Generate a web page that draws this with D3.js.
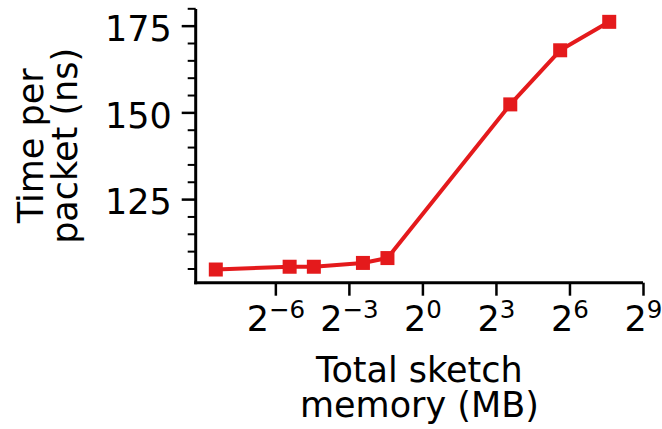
<!DOCTYPE html>
<html>
<head>
<meta charset="utf-8">
<script src="https://cdn.jsdelivr.net/npm/d3@7"></script>
<style>
  html, body { margin: 0; padding: 0; background: #fff; }
  svg { display: block; }
  text { font-family: "DejaVu Sans", sans-serif; fill: #000; }
</style>
</head>
<body>
<svg id="chart" width="662" height="429"></svg>
<script>
// ---- data ----
const memoryMB = [0.0029, 0.0234, 0.0464, 0.186, 0.372, 12.0, 49.2, 197];
const timeNs   = [104.7, 105.5, 105.5, 106.6, 108.0, 152.3, 167.9, 176.1];
const xTickExps = [-6, -3, 0, 3, 6, 9];
const yMajorTicks = [125, 150, 175];
const yMinorTicks = [105, 110, 115, 120, 130, 135, 140, 145, 155, 160, 165, 170, 180];
const xLabelLines = ["Total sketch", "memory (MB)"];
const yLabelLines = ["Time per", "packet (ns)"];

(function () {
const pL = 195.7, pR = 643, pT = 9, pB = 282.7;
const color = "#e41a1c";
const fs = 35;

const svg = d3.select("#chart");

const x = d3.scaleLog().base(2).domain([Math.pow(2, -9.25), Math.pow(2, 9)]).range([pL, pR]);
const y = d3.scaleLinear().domain([100.9, 179.8]).range([pB, pT]);

// ---- y axis ----
const yAxis = svg.append("g").attr("transform", `translate(${pL},0)`)
  .call(d3.axisLeft(y).tickValues(yMajorTicks).tickSize(14).tickPadding(10).tickFormat(d3.format("d")));
yAxis.select(".domain").remove();
yAxis.selectAll(".tick line").attr("stroke", "#000").attr("stroke-width", 2.5);
yAxis.selectAll(".tick text").attr("font-size", fs).attr("font-family", "DejaVu Sans").attr("dy", "0.42em");

const yMinor = svg.append("g").attr("transform", `translate(${pL},0)`)
  .call(d3.axisLeft(y).tickValues(yMinorTicks).tickSize(8).tickFormat(""));
yMinor.select(".domain").remove();
yMinor.selectAll(".tick line").attr("stroke", "#000").attr("stroke-width", 2);

// ---- x axis ----
const xAxis = svg.append("g").attr("transform", `translate(0,${pB})`)
  .call(d3.axisBottom(x).tickValues(xTickExps.map(e => Math.pow(2, e))).tickSize(13).tickPadding(0).tickFormat(""));
xAxis.select(".domain").remove();
xAxis.selectAll(".tick line").attr("stroke", "#000").attr("stroke-width", 2.5);
xAxis.selectAll(".tick").each(function(d, i) {
  const e = xTickExps[i];
  const t = d3.select(this).append("text")
    .attr("y", 48).attr("text-anchor", "middle").attr("font-size", fs).attr("fill", "#000");
  t.append("tspan").text("2");
  t.append("tspan").attr("dy", -13).attr("font-size", fs * 0.7)
    .text(e < 0 ? "\u2212" + Math.abs(e) : String(e));
});

// ---- spines ----
svg.append("line").attr("x1", pL).attr("x2", pL).attr("y1", pT).attr("y2", pB + 1.5)
  .attr("stroke", "#000").attr("stroke-width", 3);
svg.append("line").attr("x1", pL - 1.5).attr("x2", pR).attr("y1", pB).attr("y2", pB)
  .attr("stroke", "#000").attr("stroke-width", 3);

// ---- line + markers ----
const pts = memoryMB.map((m, i) => [m, timeNs[i]]);
svg.append("path").datum(pts)
  .attr("fill", "none").attr("stroke", color).attr("stroke-width", 4)
  .attr("stroke-linejoin", "round")
  .attr("d", d3.line().x(d => x(d[0])).y(d => y(d[1])));
const ms = 14;
svg.selectAll("rect.mk").data(pts).enter().append("rect").attr("class", "mk")
  .attr("x", d => x(d[0]) - ms / 2).attr("y", d => y(d[1]) - ms / 2)
  .attr("width", ms).attr("height", ms).attr("fill", color);

// ---- axis labels ----
const xl = svg.append("text").attr("text-anchor", "middle").attr("font-size", fs)
  .attr("transform", `translate(${(pL + pR) / 2},382.3)`);
xLabelLines.forEach((s, i) => xl.append("tspan").attr("x", 0).attr("y", i * 34.4).text(s));

const yl = svg.append("text").attr("text-anchor", "middle").attr("font-size", fs)
  .attr("transform", `translate(43,${(pT + pB) / 2}) rotate(-90)`);
yLabelLines.forEach((s, i) => yl.append("tspan").attr("x", 0).attr("y", i * 34.4).text(s));
})();
</script>
</body>
</html>
